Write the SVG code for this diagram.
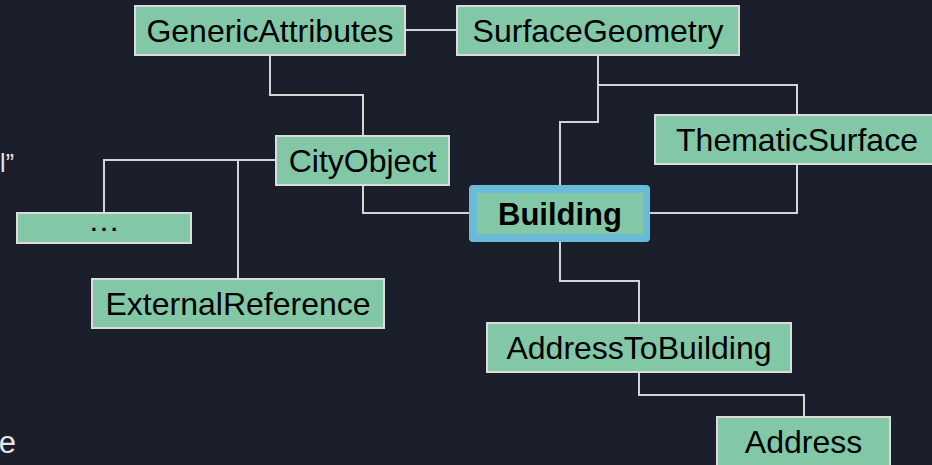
<svg xmlns="http://www.w3.org/2000/svg" width="932" height="465" viewBox="0 0 932 465">
  <style>
    .bg { fill: #1b1f2b; }
    .box { fill: #82c8a7; stroke: #dcdcdc; stroke-width: 2; }
    .label { font-family: "Liberation Sans", Arial, sans-serif; font-size: 32px; fill: #000; text-anchor: middle; }
    .bold { font-weight: bold; font-size: 31px; }
    .wire { fill: none; stroke: #d4d4d4; stroke-width: 2; }
    .side { font-family: "Liberation Sans", Arial, sans-serif; fill: #e6e6e6; text-anchor: end; }
  </style>

  <rect class="bg" x="0" y="0" width="932" height="465"/>

  <!-- fragments of slide text at the left margin -->
  <text class="side" x="14" y="172" font-size="25">l”</text>
  <text class="side" x="16" y="453" font-size="31">e</text>

  <!-- connectors -->
  <g id="connectors">
    <path class="wire" d="M405 30 H457"/>
    <path class="wire" d="M270 55 V95 H363 V136"/>
    <path class="wire" d="M276 160 H104 V213"/>
    <path class="wire" d="M238 160 V279"/>
    <path class="wire" d="M363 185 V213 H470"/>
    <path class="wire" d="M598 55 V122 H560 V186"/>
    <path class="wire" d="M598 85 H797 V115"/>
    <path class="wire" d="M797 165 V213 H650"/>
    <path class="wire" d="M560 242 V281 H639 V323"/>
    <path class="wire" d="M639 373 V395 H804 V417"/>
  </g>

  <g id="generic-attributes">
    <rect class="box" x="135" y="6" width="270" height="49"/>
    <text class="label" x="270" y="42">GenericAttributes</text>
  </g>

  <g id="surface-geometry">
    <rect class="box" x="457" y="6" width="282" height="49"/>
    <text class="label" x="598" y="42">SurfaceGeometry</text>
  </g>

  <g id="city-object">
    <rect class="box" x="276" y="136" width="173" height="49"/>
    <text class="label" x="362.5" y="172">CityObject</text>
  </g>

  <g id="thematic-surface">
    <rect class="box" x="655" y="115" width="285" height="49"/>
    <text class="label" x="797" y="151">ThematicSurface</text>
  </g>

  <g id="more">
    <rect class="box" x="17" y="213" width="174" height="30"/>
    <text class="label" x="104" y="231">…</text>
  </g>

  <g id="building">
    <rect x="469" y="185" width="181" height="57" rx="4" fill="#6bbad8"/>
    <rect x="477" y="193" width="166" height="41" fill="#82c8a7"/>
    <text class="label bold" x="560" y="225">Building</text>
  </g>

  <g id="external-reference">
    <rect class="box" x="92" y="279" width="292" height="49"/>
    <text class="label" x="238" y="315">ExternalReference</text>
  </g>

  <g id="address-to-building">
    <rect class="box" x="487" y="323" width="304" height="49"/>
    <text class="label" x="639" y="359">AddressToBuilding</text>
  </g>

  <g id="address">
    <rect class="box" x="717" y="417" width="173" height="52"/>
    <text class="label" x="803.5" y="453">Address</text>
  </g>
</svg>
